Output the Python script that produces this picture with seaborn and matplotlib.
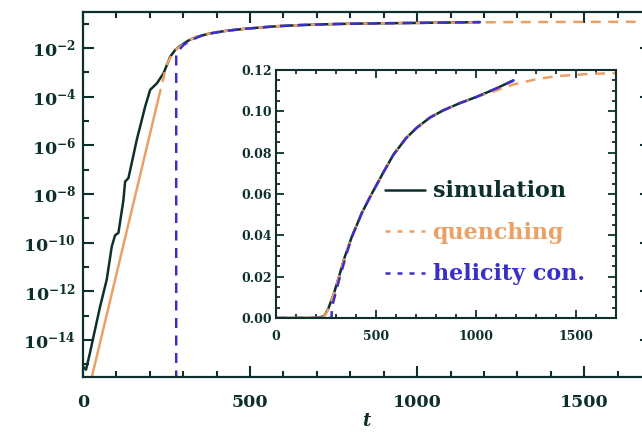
import math
import matplotlib
matplotlib.use("Agg")
import matplotlib.pyplot as plt
import seaborn as sns
from matplotlib.lines import Line2D
from matplotlib.ticker import FixedLocator, MultipleLocator, FuncFormatter, NullFormatter

# ---- data -----------------------------------------------------------------
# simulated mean-field energy vs time
t_sim = [0, 9, 21, 31, 51, 71, 86, 96, 106, 121, 126, 136, 150, 161, 171, 186,
         201, 221, 241, 261, 276, 290, 315, 340, 378, 430, 478, 540, 587, 650,
         703, 770, 837, 920, 1003, 1100, 1187]
b_sim = [8e-16, 6e-16, 3e-15, 1.3e-14, 2.3e-13, 3e-12, 6.8e-11, 2e-10, 2.5e-10,
         5.6e-9, 3.2e-8, 4.5e-8, 3.4e-7, 1.7e-6, 5.9e-6, 3.9e-5, 1.9e-4, 3.5e-4,
         9e-4, 4.4e-3, 8.3e-3, 0.012, 0.020, 0.0285, 0.039, 0.051, 0.060, 0.071,
         0.079, 0.087, 0.092, 0.097, 0.1005, 0.104, 0.107, 0.111, 0.115]

# exponential (kinematic) growth line
t_lin = [27, 232]
b_lin = [3.2e-16, 1.9e-4]

# algebraic quenching model
t_quench = [238, 250, 265, 280, 315, 340, 378, 430, 478, 540, 587, 650, 703,
            770, 837, 920, 1003, 1100, 1187, 1300, 1400, 1550, 1700]
b_quench = [4e-4, 2e-3, 5e-3, 9e-3, 0.020, 0.0285, 0.039, 0.051, 0.060, 0.071,
            0.079, 0.087, 0.092, 0.097, 0.1005, 0.104, 0.107, 0.110, 0.113,
            0.1155, 0.117, 0.118, 0.1185]

# helicity-conservation model
t_hel = [0, 278, 279, 290, 300, 320, 350, 378, 430, 478, 540, 587, 650, 703,
         770, 837, 920, 1003, 1100, 1190]
b_hel = [0, 0, 0.005, 0.009, 0.013, 0.020, 0.030, 0.039, 0.051, 0.060, 0.071,
         0.079, 0.087, 0.092, 0.097, 0.1005, 0.104, 0.107, 0.111, 0.115]

main_yticks = [1e-14, 1e-12, 1e-10, 1e-8, 1e-6, 1e-4, 1e-2]
main_yminor = [1e-15, 1e-13, 1e-11, 1e-9, 1e-7, 1e-5, 1e-3, 1e-1]
main_xticks = [0, 500, 1000, 1500]
inset_yticks = [0.00, 0.02, 0.04, 0.06, 0.08, 0.10, 0.12]
legend_labels = ["simulation", "quenching", "helicity con."]

# ---- style ----------------------------------------------------------------
INK = "#0e302d"
ORANGE = "#eba064"
BLUE = "#3b2fc9"

sns.set_style("ticks")
plt.rcParams["font.family"] = ["DejaVu Serif"]
plt.rcParams["font.weight"] = "bold"
plt.rcParams["mathtext.fontset"] = "dejavuserif"
plt.rcParams["text.color"] = INK
plt.rcParams["axes.labelcolor"] = INK
plt.rcParams["xtick.color"] = INK
plt.rcParams["ytick.color"] = INK

DASH = (0, (4, 3))

fig = plt.figure(figsize=(6.42, 4.32), dpi=100)
ax = fig.add_axes([83 / 642, 1 - 377 / 432, 568 / 642, 365 / 432])


def draw_series(a, lw):
    sns.lineplot(x=t_sim, y=b_sim, ax=a, color=INK, lw=lw, estimator=None,
                 sort=False, legend=False)
    sns.lineplot(x=t_lin, y=b_lin, ax=a, color=ORANGE, lw=lw, estimator=None,
                 sort=False, legend=False)
    sns.lineplot(x=t_quench, y=b_quench, ax=a, color=ORANGE, lw=lw,
                 linestyle=DASH, estimator=None, sort=False, legend=False)
    sns.lineplot(x=t_hel, y=b_hel, ax=a, color=BLUE, lw=lw, linestyle=DASH,
                 estimator=None, sort=False, legend=False)


# ---- main panel (log scale) ----------------------------------------------
ax.set_yscale("log")
draw_series(ax, 1.8)
ax.set_xlim(0, 1700)
ax.set_ylim(3e-16, 0.3)
ax.yaxis.set_major_locator(FixedLocator(main_yticks))
ax.yaxis.set_minor_locator(FixedLocator(main_yminor))
ax.yaxis.set_major_formatter(FuncFormatter(
    lambda v, p: r"$\mathbf{10^{%d}}$" % round(math.log10(v))))
ax.yaxis.set_minor_formatter(NullFormatter())
ax.xaxis.set_major_locator(FixedLocator(main_xticks))
ax.xaxis.set_minor_locator(MultipleLocator(100))
ax.tick_params(which="both", direction="in", top=True, right=True, width=1.5,
               color=INK)
ax.tick_params(which="major", length=8, labelsize=12.5)
ax.tick_params(which="minor", length=4)
ax.tick_params(axis="x", which="major", pad=12)
ax.tick_params(axis="y", which="major", pad=5)
for s in ax.spines.values():
    s.set_linewidth(1.6)
    s.set_color(INK)
ax.set_xlabel("$t$", fontsize=13, labelpad=1)
ax.set_ylabel("")

# ---- inset (linear scale) ------------------------------------------------
ins = fig.add_axes([276 / 642, 1 - 318 / 432, 340 / 642, 248 / 432])
ins.set_facecolor("white")
draw_series(ins, 1.8)
ins.set_xlim(0, 1700)
ins.set_ylim(0, 0.12)
ins.xaxis.set_major_locator(FixedLocator(main_xticks))
ins.xaxis.set_minor_locator(MultipleLocator(100))
ins.yaxis.set_major_locator(FixedLocator(inset_yticks))
ins.yaxis.set_minor_locator(MultipleLocator(0.005))
ins.yaxis.set_major_formatter(FuncFormatter(lambda v, p: "%.2f" % v))
ins.tick_params(which="both", direction="in", top=True, right=True, width=1.3,
                color=INK)
ins.tick_params(which="major", length=6, labelsize=9)
ins.tick_params(which="minor", length=3)
ins.tick_params(axis="x", which="major", pad=9)
ins.tick_params(axis="y", which="major", pad=3)
for s in ins.spines.values():
    s.set_linewidth(1.5)
    s.set_color(INK)
ins.set_xlabel("")
ins.set_ylabel("")

handles = [Line2D([], [], color=INK, lw=1.8),
           Line2D([], [], color=ORANGE, lw=1.8, linestyle=(0, (2, 2.8))),
           Line2D([], [], color=BLUE, lw=1.8, linestyle=(0, (2, 2.8)))]
leg = ins.legend(handles, legend_labels, loc="upper left",
                 bbox_to_anchor=(0.32, 0.555), frameon=False, fontsize=16,
                 handlelength=1.8, handletextpad=0.35, labelspacing=0.88,
                 borderaxespad=0, borderpad=0)
for txt, col in zip(leg.get_texts(), [INK, ORANGE, BLUE]):
    txt.set_color(col)

fig.savefig("out.png", dpi=100)
